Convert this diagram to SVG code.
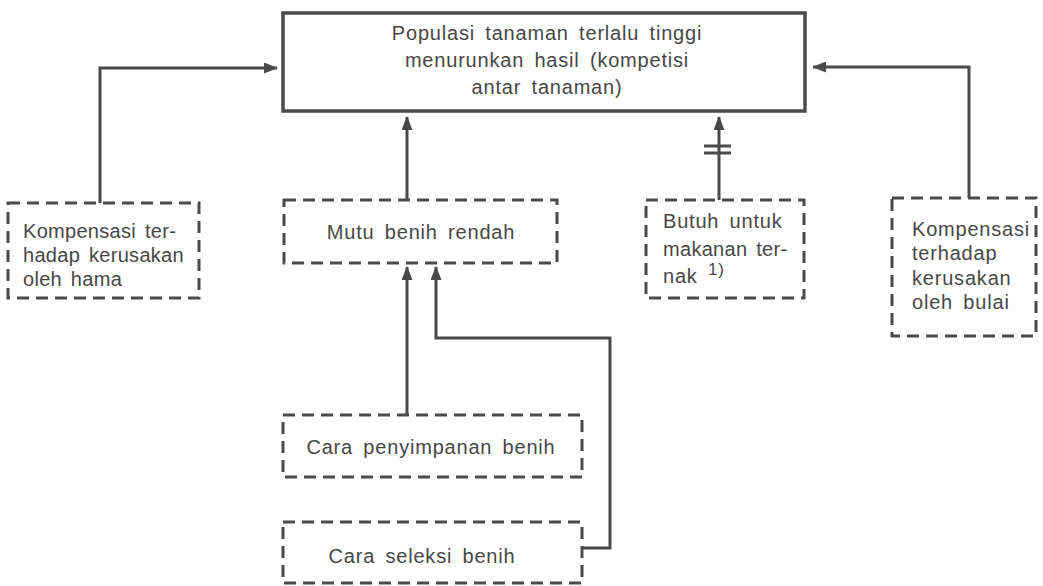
<svg xmlns="http://www.w3.org/2000/svg" width="1043" height="586" viewBox="0 0 1043 586">
<defs>
<style>
.t{font-family:"Liberation Sans",Arial,sans-serif;font-size:20px;fill:#474747;letter-spacing:0.8px;word-spacing:4px}
.n{letter-spacing:0.3px;word-spacing:3px}
.c{text-anchor:middle}
.solid{fill:none;stroke:#4a4a4a;stroke-width:3.5}
.dash{fill:none;stroke:#4a4a4a;stroke-width:3;stroke-dasharray:12 7}
.ln{fill:none;stroke:#4a4a4a;stroke-width:3}
.sup{font-size:17px}
</style>
<marker id="ah" markerUnits="userSpaceOnUse" markerWidth="14" markerHeight="11" refX="13" refY="5.5" orient="auto">
<path d="M0,0 L14,5.5 L0,11 z" fill="#4a4a4a"/>
</marker>
</defs>
<rect width="1043" height="586" fill="#ffffff"/>
<g id="connectors">
<path class="ln" d="M100,203 V68 H277" marker-end="url(#ah)"/>
<path class="ln" d="M969,198 V67 H813" marker-end="url(#ah)"/>
<path class="ln" d="M407,200 V117" marker-end="url(#ah)"/>
<path class="ln" d="M719,200 V117" marker-end="url(#ah)"/>
<path class="ln" d="M704,146 H731 M704,153 H731"/>
<path class="ln" d="M407,415 V267" marker-end="url(#ah)"/>
<path class="ln" d="M583,548 H610 V338 H436 V267" marker-end="url(#ah)"/>
</g>
<g id="node-top">
<rect class="solid" x="283" y="13" width="522" height="98"/>
<text class="t c" x="547" y="40">Populasi tanaman terlalu tinggi</text>
<text class="t c" x="547" y="67">menurunkan hasil (kompetisi</text>
<text class="t c" x="547" y="94">antar tanaman)</text>
</g>
<g id="node-hama">
<rect class="dash" x="8" y="203" width="191" height="95"/>
<text class="t n" x="23" y="238">Kompensasi ter-</text>
<text class="t n" x="23" y="262">hadap kerusakan</text>
<text class="t n" x="23" y="286">oleh hama</text>
</g>
<g id="node-mutu">
<rect class="dash" x="284" y="200" width="273" height="63"/>
<text class="t c" x="421" y="239">Mutu benih rendah</text>
</g>
<g id="node-butuh">
<rect class="dash" x="646" y="200" width="158" height="98"/>
<text class="t" x="663" y="228">Butuh untuk</text>
<text class="t n" x="663" y="256">makanan ter-</text>
<text class="t" x="663" y="283">nak <tspan class="sup" dy="-8">1)</tspan></text>
</g>
<g id="node-bulai">
<rect class="dash" x="892" y="198" width="144" height="138"/>
<text class="t" x="912" y="236">Kompensasi</text>
<text class="t" x="912" y="260">terhadap</text>
<text class="t" x="912" y="285">kerusakan</text>
<text class="t" x="912" y="309">oleh bulai</text>
</g>
<g id="node-penyimpanan">
<rect class="dash" x="283" y="415" width="299" height="62"/>
<text class="t c" x="431" y="454">Cara penyimpanan benih</text>
</g>
<g id="node-seleksi">
<rect class="dash" x="283" y="522" width="299" height="61"/>
<text class="t c" x="422" y="563">Cara seleksi benih</text>
</g>
</svg>
